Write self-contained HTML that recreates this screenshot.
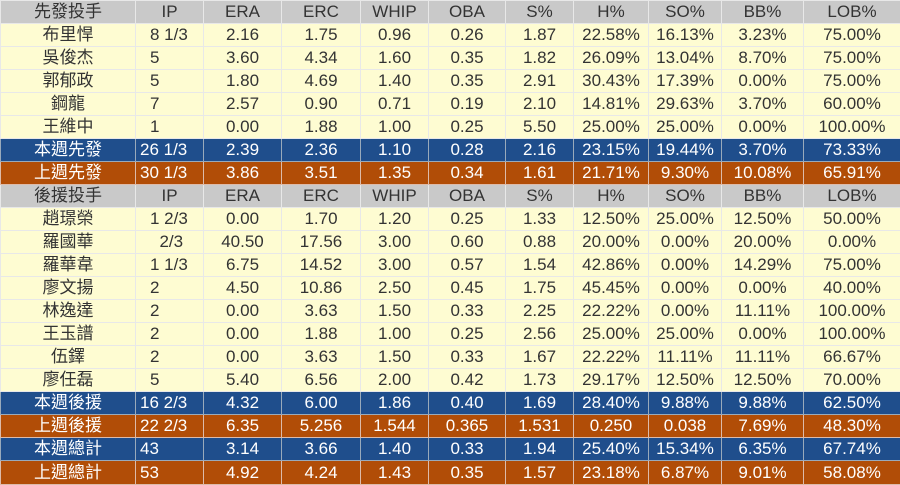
<!DOCTYPE html><html><head><meta charset="utf-8"><style>
body{margin:0;background:#fff;width:900px;height:484px;overflow:hidden}
table{border-collapse:collapse;table-layout:fixed;width:900px;font-family:"Liberation Sans","Noto Sans CJK TC",sans-serif;font-size:17px}
td{height:22px;padding:0;border:1px solid #e8e8e8;text-align:center;color:#333;line-height:22px;white-space:nowrap;overflow:hidden}
td:nth-child(2){text-align:left;padding-left:14px}
tr.h td{background:#c9c9c9;color:#333}
tr.y td{background:#fefcd2}
tr.b td{background:#1f4e8c;color:#fff;border-color:#9ab}
tr.o td{background:#b14d07;color:#fff;border-color:#dba}
tr:last-child td{height:23px}
</style></head><body><table>
<colgroup><col style="width:135px"><col style="width:68px"><col style="width:78px"><col style="width:79px"><col style="width:68px"><col style="width:77px"><col style="width:68px"><col style="width:75px"><col style="width:73px"><col style="width:82px"><col style="width:97px"></colgroup>
<tr class="h"><td>先發投手</td><td style="text-align:center;padding:0">IP</td><td>ERA</td><td>ERC</td><td>WHIP</td><td>OBA</td><td>S%</td><td>H%</td><td>SO%</td><td>BB%</td><td>LOB%</td></tr>
<tr class="y"><td>布里悍</td><td>8 1/3</td><td>2.16</td><td>1.75</td><td>0.96</td><td>0.26</td><td>1.87</td><td>22.58%</td><td>16.13%</td><td>3.23%</td><td>75.00%</td></tr>
<tr class="y"><td>吳俊杰</td><td>5</td><td>3.60</td><td>4.34</td><td>1.60</td><td>0.35</td><td>1.82</td><td>26.09%</td><td>13.04%</td><td>8.70%</td><td>75.00%</td></tr>
<tr class="y"><td>郭郁政</td><td>5</td><td>1.80</td><td>4.69</td><td>1.40</td><td>0.35</td><td>2.91</td><td>30.43%</td><td>17.39%</td><td>0.00%</td><td>75.00%</td></tr>
<tr class="y"><td>鋼龍</td><td>7</td><td>2.57</td><td>0.90</td><td>0.71</td><td>0.19</td><td>2.10</td><td>14.81%</td><td>29.63%</td><td>3.70%</td><td>60.00%</td></tr>
<tr class="y"><td>王維中</td><td>1</td><td>0.00</td><td>1.88</td><td>1.00</td><td>0.25</td><td>5.50</td><td>25.00%</td><td>25.00%</td><td>0.00%</td><td>100.00%</td></tr>
<tr class="b"><td>本週先發</td><td style="padding-left:4px">26 1/3</td><td>2.39</td><td>2.36</td><td>1.10</td><td>0.28</td><td>2.16</td><td>23.15%</td><td>19.44%</td><td>3.70%</td><td>73.33%</td></tr>
<tr class="o"><td>上週先發</td><td style="padding-left:4px">30 1/3</td><td>3.86</td><td>3.51</td><td>1.35</td><td>0.34</td><td>1.61</td><td>21.71%</td><td>9.30%</td><td>10.08%</td><td>65.91%</td></tr>
<tr class="h"><td>後援投手</td><td style="text-align:center;padding:0">IP</td><td>ERA</td><td>ERC</td><td>WHIP</td><td>OBA</td><td>S%</td><td>H%</td><td>SO%</td><td>BB%</td><td>LOB%</td></tr>
<tr class="y"><td>趙璟榮</td><td>1 2/3</td><td>0.00</td><td>1.70</td><td>1.20</td><td>0.25</td><td>1.33</td><td>12.50%</td><td>25.00%</td><td>12.50%</td><td>50.00%</td></tr>
<tr class="y"><td>羅國華</td><td>&nbsp;&nbsp;2/3</td><td>40.50</td><td>17.56</td><td>3.00</td><td>0.60</td><td>0.88</td><td>20.00%</td><td>0.00%</td><td>20.00%</td><td>0.00%</td></tr>
<tr class="y"><td>羅華韋</td><td>1 1/3</td><td>6.75</td><td>14.52</td><td>3.00</td><td>0.57</td><td>1.54</td><td>42.86%</td><td>0.00%</td><td>14.29%</td><td>75.00%</td></tr>
<tr class="y"><td>廖文揚</td><td>2</td><td>4.50</td><td>10.86</td><td>2.50</td><td>0.45</td><td>1.75</td><td>45.45%</td><td>0.00%</td><td>0.00%</td><td>40.00%</td></tr>
<tr class="y"><td>林逸達</td><td>2</td><td>0.00</td><td>3.63</td><td>1.50</td><td>0.33</td><td>2.25</td><td>22.22%</td><td>0.00%</td><td>11.11%</td><td>100.00%</td></tr>
<tr class="y"><td>王玉譜</td><td>2</td><td>0.00</td><td>1.88</td><td>1.00</td><td>0.25</td><td>2.56</td><td>25.00%</td><td>25.00%</td><td>0.00%</td><td>100.00%</td></tr>
<tr class="y"><td>伍鐸</td><td>2</td><td>0.00</td><td>3.63</td><td>1.50</td><td>0.33</td><td>1.67</td><td>22.22%</td><td>11.11%</td><td>11.11%</td><td>66.67%</td></tr>
<tr class="y"><td>廖任磊</td><td>5</td><td>5.40</td><td>6.56</td><td>2.00</td><td>0.42</td><td>1.73</td><td>29.17%</td><td>12.50%</td><td>12.50%</td><td>70.00%</td></tr>
<tr class="b"><td>本週後援</td><td style="padding-left:4px">16 2/3</td><td>4.32</td><td>6.00</td><td>1.86</td><td>0.40</td><td>1.69</td><td>28.40%</td><td>9.88%</td><td>9.88%</td><td>62.50%</td></tr>
<tr class="o"><td>上週後援</td><td style="padding-left:4px">22 2/3</td><td>6.35</td><td>5.256</td><td>1.544</td><td>0.365</td><td>1.531</td><td>0.250</td><td>0.038</td><td>7.69%</td><td>48.30%</td></tr>
<tr class="b"><td>本週總計</td><td style="padding-left:4px">43</td><td>3.14</td><td>3.66</td><td>1.40</td><td>0.33</td><td>1.94</td><td>25.40%</td><td>15.34%</td><td>6.35%</td><td>67.74%</td></tr>
<tr class="o"><td>上週總計</td><td style="padding-left:4px">53</td><td>4.92</td><td>4.24</td><td>1.43</td><td>0.35</td><td>1.57</td><td>23.18%</td><td>6.87%</td><td>9.01%</td><td>58.08%</td></tr>
</table></body></html>
